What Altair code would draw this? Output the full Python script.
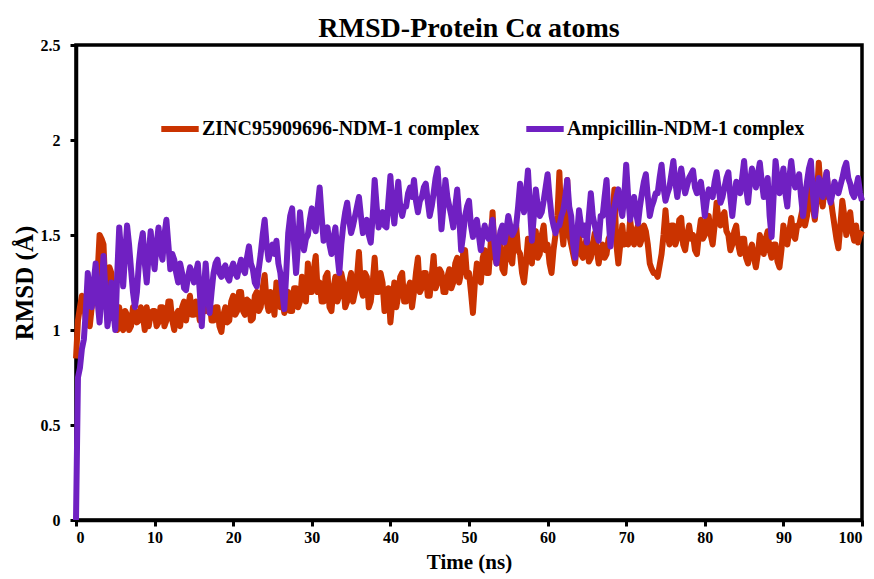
import altair as alt
import pandas as pd

zinc_rmsd = [
    0.85, 1.05, 1.12, 1.18, 1.15, 1.05, 1.12, 1.02, 1.12, 1.2, 1.15, 1.3, 1.5, 1.48, 1.45, 1.2, 1.15, 1.33, 1.3, 1.1,
    1.05, 1.0, 1.12, 1.02, 1.0, 1.1, 1.08, 1.0, 1.02, 1.12, 1.1, 1.04, 1.05, 1.12, 1.08, 1.0, 1.12, 1.02, 1.08, 1.1,
    1.1, 1.02, 1.04, 1.12, 1.12, 1.02, 1.05, 1.15, 1.15, 1.05, 1.0, 1.08, 1.1, 1.02, 1.12, 1.15, 1.05, 1.12, 1.18, 1.08,
    1.08, 1.15, 1.12, 1.05, 1.22, 1.12, 1.1, 1.18, 1.15, 1.05, 1.05, 1.12, 1.12, 1.02, 0.99, 1.08, 1.12, 1.04, 1.05, 1.15,
    1.18, 1.08, 1.1, 1.2, 1.2, 1.1, 1.08, 1.16, 1.15, 1.05, 1.06, 1.18, 1.2, 1.1, 1.12, 1.22, 1.29, 1.15, 1.1, 1.2,
    1.15, 1.08, 1.25, 1.15, 1.12, 1.18, 1.09, 1.12, 1.2, 1.1, 1.1, 1.22, 1.22, 1.12, 1.15, 1.28, 1.25, 1.15, 1.35, 1.2,
    1.2, 1.32, 1.39, 1.2, 1.25, 1.15, 1.15, 1.28, 1.3, 1.12, 1.1, 1.22, 1.28, 1.15, 1.18, 1.3, 1.25, 1.12, 1.15, 1.25,
    1.3, 1.15, 1.2, 1.28, 1.41, 1.22, 1.18, 1.3, 1.28, 1.12, 1.15, 1.25, 1.38, 1.2, 1.2, 1.3, 1.25, 1.1, 1.12, 1.22,
    1.04, 1.15, 1.25, 1.12, 1.18, 1.28, 1.3, 1.15, 1.15, 1.22, 1.25, 1.12, 1.2, 1.3, 1.38, 1.2, 1.22, 1.3, 1.3, 1.18,
    1.18, 1.28, 1.39, 1.22, 1.25, 1.32, 1.3, 1.2, 1.2, 1.28, 1.32, 1.22, 1.25, 1.35, 1.38, 1.25, 1.3, 1.4, 1.42, 1.28,
    1.3, 1.2, 1.09, 1.25, 1.35, 1.28, 1.25, 1.38, 1.42, 1.3, 1.3, 1.45, 1.62, 1.4, 1.35, 1.48, 1.45, 1.32, 1.3, 1.42,
    1.5, 1.38, 1.35, 1.48, 1.55, 1.42, 1.4, 1.3, 1.25, 1.35, 1.48, 1.4, 1.35, 1.5, 1.52, 1.38, 1.4, 1.5, 1.55, 1.42,
    1.45, 1.35, 1.3, 1.42, 1.5, 1.6, 1.83, 1.55, 1.45, 1.6, 1.79, 1.5, 1.45, 1.4, 1.35, 1.48, 1.5, 1.4, 1.38, 1.45,
    1.48, 1.36, 1.38, 1.45, 1.51, 1.42, 1.35, 1.42, 1.45, 1.38, 1.4, 1.48, 1.5, 1.6, 1.74, 1.45, 1.35, 1.45, 1.55, 1.45,
    1.5, 1.45, 1.58, 1.5, 1.45, 1.52, 1.55, 1.45, 1.48, 1.55, 1.52, 1.45, 1.35, 1.32, 1.3, 1.3, 1.28, 1.34, 1.4, 1.5,
    1.63, 1.5, 1.45, 1.55, 1.55, 1.45, 1.48, 1.58, 1.59, 1.45, 1.42, 1.5, 1.55, 1.48, 1.5, 1.42, 1.4, 1.5, 1.58, 1.48,
    1.5, 1.58, 1.6, 1.5, 1.45, 1.55, 1.67, 1.58, 1.55, 1.6, 1.62, 1.52, 1.5, 1.42, 1.45, 1.52, 1.55, 1.45, 1.4, 1.48,
    1.48, 1.38, 1.35, 1.42, 1.45, 1.38, 1.33, 1.4, 1.5, 1.45, 1.4, 1.48, 1.52, 1.42, 1.38, 1.45, 1.45, 1.36, 1.33, 1.42,
    1.55, 1.48, 1.45, 1.52, 1.59, 1.5, 1.48, 1.55, 1.55, 1.6, 1.65, 1.55, 1.6, 1.7, 1.77, 1.65, 1.58, 1.7, 1.88, 1.72,
    1.65, 1.75, 1.83, 1.7, 1.7, 1.62, 1.55, 1.48, 1.43, 1.55, 1.68, 1.6, 1.5, 1.58, 1.62, 1.52, 1.47, 1.55, 1.46, 1.5,
    1.52,
]

ampicillin_rmsd = [
    0.0, 0.75, 0.8, 0.9, 0.95, 1.1, 1.3, 1.2, 1.12, 1.25, 1.35, 1.15, 1.04, 1.2, 1.39, 1.2, 1.02, 1.1, 1.25, 1.1,
    1.0, 1.3, 1.54, 1.4, 1.23, 1.4, 1.55, 1.45, 1.32, 1.2, 1.12, 1.2, 1.35, 1.45, 1.51, 1.35, 1.25, 1.4, 1.52, 1.4,
    1.32, 1.45, 1.54, 1.42, 1.37, 1.5, 1.58, 1.45, 1.32, 1.4, 1.37, 1.3, 1.25, 1.35, 1.3, 1.22, 1.21, 1.28, 1.33, 1.3,
    1.25, 1.3, 1.35, 1.2, 1.02, 1.2, 1.35, 1.2, 1.09, 1.2, 1.3, 1.35, 1.37, 1.3, 1.28, 1.32, 1.34, 1.28, 1.26, 1.32,
    1.35, 1.3, 1.28, 1.33, 1.37, 1.32, 1.3, 1.38, 1.44, 1.35, 1.32, 1.25, 1.23, 1.32, 1.4, 1.5, 1.58, 1.45, 1.37, 1.42,
    1.45, 1.4, 1.47, 1.35, 1.3, 1.2, 1.11, 1.3, 1.51, 1.6, 1.64, 1.45, 1.3, 1.45, 1.62, 1.5, 1.42, 1.48, 1.5, 1.58,
    1.64, 1.55, 1.52, 1.65, 1.75, 1.6, 1.47, 1.5, 1.54, 1.45, 1.4, 1.48, 1.54, 1.4, 1.3, 1.45, 1.55, 1.62, 1.67, 1.58,
    1.51, 1.55, 1.6, 1.65, 1.7, 1.6, 1.51, 1.55, 1.58, 1.5, 1.46, 1.6, 1.79, 1.65, 1.54, 1.6, 1.62, 1.55, 1.54, 1.68,
    1.81, 1.65, 1.56, 1.68, 1.78, 1.65, 1.6, 1.65, 1.65, 1.72, 1.75, 1.7, 1.79, 1.68, 1.62, 1.68, 1.7, 1.75, 1.77, 1.68,
    1.6, 1.65, 1.72, 1.8, 1.85, 1.7, 1.53, 1.65, 1.79, 1.7, 1.65, 1.6, 1.54, 1.65, 1.74, 1.6, 1.42, 1.5, 1.6, 1.65,
    1.68, 1.55, 1.49, 1.55, 1.58, 1.5, 1.42, 1.5, 1.55, 1.5, 1.48, 1.52, 1.58, 1.45, 1.35, 1.45, 1.52, 1.55, 1.46, 1.52,
    1.6, 1.55, 1.5, 1.52, 1.55, 1.65, 1.77, 1.68, 1.62, 1.72, 1.84, 1.65, 1.47, 1.6, 1.74, 1.65, 1.6, 1.62, 1.68, 1.75,
    1.82, 1.7, 1.6, 1.55, 1.51, 1.55, 1.55, 1.6, 1.63, 1.7, 1.79, 1.65, 1.6, 1.45, 1.38, 1.5, 1.63, 1.55, 1.5, 1.55,
    1.46, 1.6, 1.72, 1.6, 1.55, 1.5, 1.47, 1.6, 1.6, 1.7, 1.79, 1.6, 1.44, 1.55, 1.65, 1.7, 1.74, 1.65, 1.6, 1.7,
    1.87, 1.7, 1.58, 1.65, 1.7, 1.62, 1.56, 1.65, 1.72, 1.78, 1.82, 1.7, 1.6, 1.65, 1.68, 1.72, 1.72, 1.8, 1.87, 1.75,
    1.68, 1.72, 1.75, 1.82, 1.89, 1.78, 1.7, 1.78, 1.85, 1.78, 1.72, 1.76, 1.8, 1.82, 1.84, 1.75, 1.72, 1.75, 1.78, 1.7,
    1.6, 1.68, 1.74, 1.72, 1.7, 1.78, 1.83, 1.75, 1.67, 1.7, 1.75, 1.8, 1.83, 1.7, 1.6, 1.7, 1.78, 1.75, 1.72, 1.8,
    1.89, 1.75, 1.67, 1.78, 1.85, 1.8, 1.75, 1.82, 1.88, 1.78, 1.7, 1.75, 1.8, 1.6, 1.49, 1.7, 1.89, 1.8, 1.72, 1.78,
    1.85, 1.72, 1.65, 1.8, 1.89, 1.8, 1.75, 1.78, 1.82, 1.7, 1.6, 1.7, 1.78, 1.85, 1.89, 1.72, 1.6, 1.72, 1.8, 1.75,
    1.7, 1.78, 1.83, 1.72, 1.67, 1.72, 1.78, 1.75, 1.72, 1.76, 1.8, 1.85, 1.88, 1.8, 1.77, 1.72, 1.7, 1.75, 1.8, 1.72,
    1.68,
]

time_ns = [i * 0.25 for i in range(401)]

series_names = ["ZINC95909696-NDM-1 complex", "Ampicillin-NDM-1 complex"]
series_colors = ["#CA3300", "#7020C2"]

x_ticks = [0, 10, 20, 30, 40, 50, 60, 70, 80, 90, 100]
y_ticks = [0, 0.5, 1, 1.5, 2, 2.5]

df_zinc = pd.DataFrame({"t": time_ns, "rmsd": zinc_rmsd, "series": series_names[0]})
df_amp = pd.DataFrame({"t": time_ns, "rmsd": ampicillin_rmsd, "series": series_names[1]})

FONT = "Liberation Serif"

x_enc = alt.X(
    "t:Q",
    scale=alt.Scale(domain=[0, 100], nice=False),
    axis=alt.Axis(
        values=x_ticks, title="Time (ns)", grid=False,
        domainColor="black", domainWidth=3.5, tickColor="black", tickWidth=3, tickSize=6,
        labelFont=FONT, labelFontSize=16, labelFontWeight="bold", labelColor="black", labelPadding=3,
        titleFont=FONT, titleFontSize=21, titleFontWeight="bold", titleColor="black", titlePadding=6,
    ),
)
y_enc = alt.Y(
    "rmsd:Q",
    scale=alt.Scale(domain=[0, 2.5], nice=False),
    axis=alt.Axis(
        values=y_ticks, title="RMSD (Å)", grid=False, format="~g",
        domainColor="black", domainWidth=3.5, tickColor="black", tickWidth=3, tickSize=6,
        labelFont=FONT, labelFontSize=16, labelFontWeight="bold", labelColor="black", labelPadding=10,
        titleFont=FONT, titleFontSize=25, titleFontWeight="bold", titleColor="black", titlePadding=3,
    ),
)
color_enc = alt.Color(
    "series:N",
    scale=alt.Scale(domain=series_names, range=series_colors),
    legend=alt.Legend(
        title=None, orient="none", direction="horizontal", legendX=82, legendY=62,
        symbolType="stroke", symbolStrokeWidth=6, symbolSize=1400,
        labelFont=FONT, labelFontSize=20, labelFontWeight="bold", labelColor="black",
        labelOffset=0, columnPadding=34, labelLimit=0,
    ),
)

line_zinc = alt.Chart(df_zinc).mark_line(strokeWidth=6, strokeJoin="round").encode(x=x_enc, y=y_enc, color=color_enc)
line_amp = alt.Chart(df_amp).mark_line(strokeWidth=6, strokeJoin="round").encode(x=x_enc, y=y_enc, color=color_enc)

chart = (
    alt.layer(line_zinc, line_amp)
    .properties(
        width=786, height=475,
        title=alt.TitleParams("RMSD-Protein Cα atoms", font=FONT, fontSize=28, fontWeight="bold",
                              color="black", anchor="middle", offset=-6),
        autosize=alt.AutoSizeParams(type="none"),
        padding={"left": 76, "top": 45, "right": 12, "bottom": 59},
        view=alt.ViewBackground(stroke="black", strokeWidth=3.5, strokeOpacity=1),
    )
    .configure_view(stroke="black", strokeWidth=3.5)
    .configure(background="white")
)

chart.save("out.html", embed_options={"renderer": "svg", "actions": False})
